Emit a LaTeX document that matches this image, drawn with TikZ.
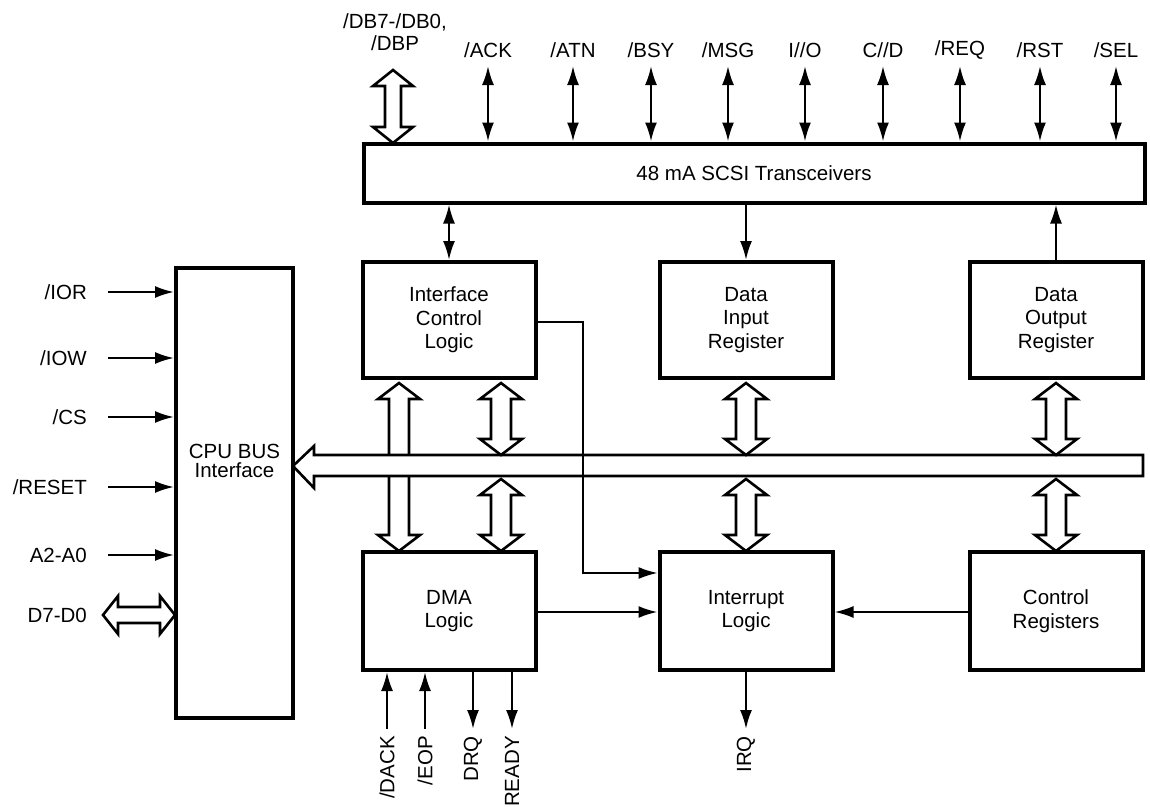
\documentclass[tikz,border=0pt]{standalone}
\usepackage{fontspec}
\setmainfont{Liberation Sans}
\usetikzlibrary{arrows.meta}
\newcommand\vdarrow[3]{% x, ytop, ybottom: hollow double arrow
  \draw[hollow] (#1,#2) -- (#1+21,#2+16) -- (#1+10,#2+16) -- (#1+10,#3-16) -- (#1+21,#3-16) -- (#1,#3)
   -- (#1-21,#3-16) -- (#1-10,#3-16) -- (#1-10,#2+16) -- (#1-21,#2+16) -- cycle;}
\begin{document}
\begin{tikzpicture}[x=1pt,y=-1pt,
  box/.style={draw, line width=4pt, fill=white, align=center, inner sep=0pt,
    font=\fontsize{20.5}{23.5}\selectfont},
  lbl/.style={font=\fontsize{20.5}{22}\selectfont, inner sep=0pt},
  sig/.style={line width=2.2pt, -{Latex[length=19pt,width=12pt]}},
  bsig/.style={line width=2.2pt, {Latex[length=19pt,width=12pt]}-{Latex[length=19pt,width=12pt]}},
  hollow/.style={draw, line width=2.6pt, fill=white, line join=miter}]
\useasboundingbox (0,0) rectangle (1150,806);

% boxes
\node[box, minimum width=781pt, minimum height=59pt] (scsi) at (754,173) {48 mA SCSI Transceivers};
\node[box, minimum width=173pt, minimum height=116pt] (icl) at (449,320) {Interface\\Control\\Logic};
\node[box, minimum width=173pt, minimum height=116pt] (dir) at (746,320) {Data\\Input\\Register};
\node[box, minimum width=173pt, minimum height=116pt] (dor) at (1056,320) {Data\\Output\\Register};
\node[box, minimum width=173pt, minimum height=118pt] (dma) at (449,611) {DMA\\Logic};
\node[box, minimum width=173pt, minimum height=118pt] (intr) at (746,611) {Interrupt\\Logic};
\node[box, minimum width=173pt, minimum height=118pt] (ctrl) at (1056,611) {Control\\Registers};
\node[box, minimum width=117pt, minimum height=450pt] (cpu) at (234.5,493) {};
\node[lbl, align=center, font=\fontsize{20.5}{19}\selectfont] (cputxt) at (234.5,461) {CPU BUS\\Interface};

% hollow arrows
\vdarrow{399}{383}{551}
\draw[hollow] (293,466) -- (314,446) -- (314,455) -- (1143,455) -- (1143,476) -- (314,476) -- (314,488) -- cycle;
\vdarrow{501}{383}{455}
\vdarrow{501}{479}{551}
\vdarrow{746}{383}{455}
\vdarrow{746}{479}{551}
\vdarrow{1056}{383}{455}
\vdarrow{1056}{479}{551}

% top data bus
\node[lbl, align=center, font=\fontsize{20.5}{22}\selectfont] (db) at (395,32) {/DB7-/DB0,\\/DBP};
\draw[hollow] (393,70) -- (413,86) -- (401,86) -- (401,127) -- (413,127) -- (393,143)
  -- (373,127) -- (385,127) -- (385,86) -- (373,86) -- cycle;

% top signals
\foreach \n/\x/\t in {ack/488/{/ACK}, atn/573/{/ATN}, bsy/651/{/BSY}, msg/728/{/MSG},
  io/805/{I//O}, cd/883/{C//D}, req/960/{/REQ}, rst/1040/{/RST}, sel/1116/{/SEL}} {
  \node[lbl] (\n) at (\x,50) {\t};
  \coordinate (\n t) at (\x,66);
  \draw[bsig] (\n t) -- (\n t |- scsi.north);
}

% SCSI to registers
\draw[bsig] (scsi.south -| icl.north) -- (icl.north);
\draw[sig] (scsi.south -| dir.north) -- (dir.north);
\draw[sig] (dor.north) -- (dor.north |- scsi.south);

% interrupt inputs
\coordinate (iclout) at (icl.east |- 0,322);
\coordinate (bend) at (583,322);
\draw[line width=1.8pt, -{Latex[length=19pt,width=12pt]}] (iclout) -- (bend) -- (bend |- 0,573) -- (intr.west |- 0,573);
\draw[sig] (dma.east |- 0,612) -- (intr.west |- 0,612);
\draw[sig] (ctrl.west |- 0,612) -- (intr.east |- 0,612);

% IRQ
\coordinate (irqend) at (746,729);
\draw[sig] (intr.south) -- (irqend);
\node[lbl, rotate=90, anchor=east] (irq) at (746,736) {IRQ};

% DMA signals
\foreach \n/\x/\t in {dack/387/{/DACK}, eop/425/{/EOP}, drq/473/{DRQ}, rdy/512/{READY}} {
  \coordinate (\n e) at (\x,729);
  \node[lbl, rotate=90, anchor=east] (\n) at (\x,736) {\t};
}
\draw[sig] (dacke) -- (dacke |- dma.south);
\draw[sig] (eope) -- (eope |- dma.south);
\draw[sig] (drqe |- dma.south) -- (drqe);
\draw[sig] (rdye |- dma.south) -- (rdye);

% CPU inputs
\foreach \n/\y/\t in {ior/292/{/IOR}, iow/358/{/IOW}, cs/417/{/CS}, reset/487/{/RESET}, addr/555/{A2-A0}} {
  \node[lbl, anchor=east] (\n) at (87,\y) {\t};
  \coordinate (\n s) at (108,\y);
  \draw[sig] (\n s) -- (\n s -| cpu.west);
}
\node[lbl, anchor=east] (data) at (87,615) {D7-D0};
\draw[hollow] (103,615) -- (118,596) -- (118,607) -- (160,607) -- (160,596) -- (175,615)
  -- (160,634) -- (160,623) -- (118,623) -- (118,634) -- cycle;
\end{tikzpicture}
\end{document}
